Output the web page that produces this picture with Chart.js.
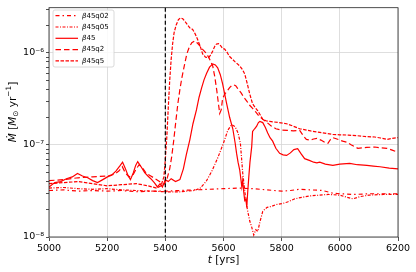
<!DOCTYPE html>
<html>
<head>
<meta charset="utf-8">
<script src="https://cdn.jsdelivr.net/npm/chart.js@4.4.1/dist/chart.umd.min.js"></script>
<style>
  body { margin: 0; background: #fff; }
  #wrap { width: 416px; height: 272px; }
</style>
</head>
<body>
<div id="wrap"><canvas id="myChart"></canvas></div>
<script>
// accretion rate values are in units of 1e-8 Msun/yr
const UNIT = 1e-8;

const tQ02 = [5000, 5050, 5100, 5150, 5200, 5250, 5300, 5350, 5400, 5450, 5500, 5550, 5600, 5650, 5700, 5750, 5800, 5830, 5860, 5900, 5940, 5975, 6000, 6050, 6100, 6150, 6200];
const mQ02 = [3.2, 3.25, 3.15, 3.2, 3.15, 3.2, 3.1, 3.15, 3.15, 3.2, 3.25, 3.3, 3.35, 3.4, 3.35, 3.25, 3.15, 3.2, 3.3, 3.25, 3.2, 3.0, 2.95, 2.9, 2.95, 2.95, 2.95];

const tQ05 = [5000, 5050, 5100, 5150, 5200, 5250, 5300, 5350, 5400, 5450, 5500, 5520, 5540, 5560, 5580, 5600, 5615, 5628, 5640, 5650, 5658, 5666, 5674, 5682, 5690, 5697, 5704, 5711, 5718, 5725, 5735, 5742, 5750, 5765, 5780, 5800, 5820, 5845, 5870, 5900, 5930, 5960, 6000, 6025, 6045, 6070, 6100, 6150, 6200];
const mQ05 = [3.4, 3.45, 3.35, 3.3, 3.35, 3.25, 3.2, 3.15, 3.1, 3.1, 3.2, 3.4, 4.0, 5.2, 7.2, 10.5, 14.5, 16.6, 15.8, 13.5, 10.5, 5.0, 3.0, 2.0, 1.5, 1.28, 1.05, 1.2, 1.15, 1.45, 1.9, 2.0, 2.1, 2.15, 2.25, 2.3, 2.4, 2.6, 2.7, 2.8, 2.85, 2.9, 2.85, 2.7, 2.6, 2.75, 2.85, 2.9, 2.9];

const tB45 = [5000, 5020, 5040, 5060, 5080, 5098, 5115, 5133, 5150, 5167, 5185, 5201, 5215, 5230, 5245, 5253, 5262, 5270, 5280, 5290, 5298, 5305, 5315, 5329, 5340, 5350, 5362, 5373, 5382, 5390, 5400, 5410, 5420, 5435, 5450, 5462, 5472, 5484, 5495, 5507, 5516, 5525, 5533, 5542, 5552, 5563, 5572, 5580, 5589, 5597, 5604, 5611, 5621, 5632, 5640, 5645, 5650, 5656, 5660, 5663, 5666, 5670, 5673, 5677, 5680, 5683, 5687, 5691, 5697, 5700, 5707, 5714, 5720, 5725, 5735, 5744, 5752, 5760, 5769, 5780, 5793, 5805, 5817, 5830, 5842, 5855, 5867, 5879, 5895, 5910, 5921, 5931, 5950, 5976, 6000, 6034, 6060, 6093, 6115, 6138, 6170, 6200];
const mB45 = [3.5, 3.9, 4.0, 4.3, 4.5, 4.9, 4.6, 4.4, 4.1, 3.9, 4.2, 4.5, 4.7, 5.2, 6.0, 6.5, 5.6, 4.8, 4.2, 5.0, 6.0, 6.6, 5.9, 5.0, 4.6, 4.3, 3.9, 3.5, 3.8, 3.5, 4.2, 4.0, 4.3, 4.0, 4.2, 5.5, 7.8, 11.3, 17, 24, 33, 42, 51, 60, 70, 76, 74, 69, 58, 46, 36, 28, 20, 15, 10.5, 8.1, 6.5, 5.3, 4.2, 3.5, 4.1, 3.0, 2.5, 2.6, 2.1, 3.0, 4.5, 6.5, 9.6, 14, 15, 16, 17.5, 18, 17.5, 15.5, 13.5, 12, 11, 9.2, 8.1, 7.8, 7.7, 8.2, 8.9, 9.1, 8.0, 7.1, 6.8, 6.5, 6.4, 6.5, 6.2, 6.0, 6.2, 6.3, 6.1, 6.0, 5.9, 5.8, 5.6, 5.5];

const tQ2 = [5000, 5050, 5100, 5150, 5200, 5225, 5240, 5252, 5262, 5275, 5290, 5300, 5310, 5322, 5335, 5350, 5365, 5380, 5395, 5405, 5415, 5422, 5429, 5436, 5443, 5450, 5457, 5465, 5474, 5482, 5491, 5501, 5510, 5518, 5530, 5542, 5552, 5563, 5570, 5577, 5582, 5587, 5592, 5597, 5605, 5614, 5621, 5628, 5635, 5642, 5649, 5660, 5670, 5680, 5690, 5700, 5710, 5720, 5735, 5750, 5765, 5780, 5800, 5820, 5840, 5862, 5875, 5885, 5897, 5910, 5921, 5935, 5950, 5959, 5968, 5976, 5990, 6010, 6024, 6040, 6062, 6080, 6093, 6120, 6140, 6162, 6180, 6200];
const mQ2 = [4.1, 4.2, 4.4, 4.5, 4.6, 4.8, 5.2, 5.8, 5.0, 4.5, 4.8, 5.5, 6.1, 5.6, 4.9, 4.6, 4.3, 4.0, 3.7, 4.2, 5.5, 7.5, 11.3, 18, 28, 40, 54, 72, 98, 115, 129, 135, 128, 120, 108, 98, 86, 72, 55, 39, 29, 22, 24, 32, 36, 39, 42, 44, 45, 44, 41, 37, 33, 30, 27, 25, 23, 21, 19, 17.5, 16, 15, 14.5, 14.4, 14.2, 14.4, 12.5, 11.5, 11.3, 11.6, 11.8, 11.3, 10.6, 10.4, 11.5, 12, 11.6, 11.0, 10.7, 10.0, 9.2, 9.3, 9.4, 9.5, 9.3, 9.2, 8.8, 8.3];

const tQ5 = [5000, 5050, 5100, 5150, 5200, 5250, 5300, 5340, 5370, 5385, 5395, 5400, 5405, 5410, 5415, 5420, 5425, 5430, 5437, 5445, 5452, 5460, 5470, 5484, 5494, 5503, 5511, 5520, 5528, 5538, 5549, 5556, 5563, 5570, 5576, 5583, 5590, 5597, 5604, 5612, 5620, 5628, 5640, 5656, 5665, 5673, 5682, 5690, 5700, 5709, 5718, 5727, 5735, 5748, 5759, 5790, 5817, 5840, 5862, 5900, 5931, 5976, 6000, 6030, 6060, 6093, 6120, 6140, 6162, 6180, 6200];
const mQ5 = [3.8, 3.9, 4.0, 3.8, 3.6, 3.7, 3.8, 3.6, 3.4, 3.6, 4.5, 7, 12, 25, 50, 85, 125, 165, 200, 230, 240, 235, 215, 187, 180, 160, 140, 118, 98, 90, 89, 95, 105, 118, 125, 126, 120, 112, 110, 102, 92, 87, 80, 72, 66, 59, 46, 36, 28, 25.5, 23.5, 21, 19, 18.2, 18, 17.5, 17, 16, 15, 14.2, 13.7, 13.0, 12.9, 12.8, 12.6, 12.3, 12.2, 11.9, 11.5, 11.8, 12.0];

const seriesNames = ['β45q02', 'β45q05', 'β45', 'β45q2', 'β45q5'];
const seriesT = [tQ02, tQ05, tB45, tQ2, tQ5];
const seriesM = [mQ02, mQ05, mB45, mQ2, mQ5];
const seriesDash = [[4, 3, 1.5, 3], [3, 1.5, 1, 1.5], [], [5.5, 3], [3.5, 1.5]];

const tLine = 5400;
const xTicks = [5000, 5200, 5400, 5600, 5800, 6000, 6200];
const yMajor = [1e-8, 1e-7, 1e-6];
const yMajorLabels = ['10⁻⁸', '10⁻⁷', '10⁻⁶'];

const yTicks = [];
[1e-8, 1e-7, 1e-6].forEach(d => { for (let m = 1; m <= 9; m++) if (d * m <= 3.1e-6) yTicks.push(d * m); });

const ctx = document.getElementById('myChart').getContext('2d');
const FONT = '"DejaVu Sans", sans-serif';

const datasets = seriesNames.map((name, i) => ({
  label: name,
  data: seriesT[i].map((t, j) => ({ x: t, y: seriesM[i][j] * UNIT })),
  borderColor: 'red',
  borderWidth: 1.2,
  borderDash: seriesDash[i],
  pointRadius: 0,
  fill: false,
  tension: 0
}));

function drawRich(c, parts, x, y) {
  // parts: [text, style] where style: 'i' italic, 'sub', 'sup', '' normal
  const size = 10.5;
  let w = 0;
  const fontOf = s => (s === 'i' ? 'italic ' : '') + ((s === 'sub' || s === 'sup') ? size * 0.7 : size) + 'px ' + FONT;
  parts.forEach(p => { c.font = fontOf(p[1]); w += c.measureText(p[0]).width; });
  let cx = x - w / 2;
  c.textBaseline = 'middle';
  c.textAlign = 'left';
  parts.forEach(p => {
    c.font = fontOf(p[1]);
    const dy = p[1] === 'sub' ? 3 : p[1] === 'sup' ? -4 : 0;
    c.fillText(p[0], cx, y + dy);
    cx += c.measureText(p[0]).width;
  });
}

const deco = {
  id: 'deco',
  afterDatasetsDraw(chart) {
    const c = chart.ctx, a = chart.chartArea;
    const px = chart.scales.x.getPixelForValue(tLine);
    c.save();
    c.strokeStyle = '#000';
    c.lineWidth = 1.2;
    c.setLineDash([4, 2.5]);
    c.beginPath();
    c.moveTo(px, a.top);
    c.lineTo(px, a.bottom);
    c.stroke();
    c.restore();
  },
  afterDraw(chart) {
    const c = chart.ctx, a = chart.chartArea;
    c.save();
    // frame
    c.strokeStyle = '#222';
    c.lineWidth = 0.8;
    c.strokeRect(a.left, a.top, a.right - a.left, a.bottom - a.top);

    // legend
    const lx = 53, ly = 10, lw = 61, lh = 57;
    c.fillStyle = 'rgba(255,255,255,0.85)';
    c.strokeStyle = '#d0d0d0';
    c.lineWidth = 0.8;
    c.beginPath();
    c.roundRect(lx, ly, lw, lh, 2);
    c.fill();
    c.stroke();
    seriesNames.forEach((name, i) => {
      const ry = 15.7 + i * 11.3;
      c.strokeStyle = 'red';
      c.lineWidth = 1.2;
      c.setLineDash(seriesDash[i]);
      c.beginPath();
      c.moveTo(55.5, ry);
      c.lineTo(78, ry);
      c.stroke();
      c.setLineDash([]);
      c.fillStyle = '#000';
      c.textBaseline = 'middle';
      c.textAlign = 'left';
      c.font = 'italic 7px ' + FONT;
      c.fillText('β', 82, ry);
      const bw = c.measureText('β').width;
      c.font = '7px ' + FONT;
      c.fillText(name.slice(1), 82 + bw, ry);
    });

    // axis titles
    c.fillStyle = '#000';
    drawRich(c, [['t', 'i'], [' [yrs]', '']], (a.left + a.right) / 2, 260);
    c.save();
    c.translate(13, 112);
    c.rotate(-Math.PI / 2);
    drawRich(c, [['Ṁ', 'i'], [' [', ''], ['M', 'i'], ['⊙', 'sub'], [' yr', ''], ['−1', 'sup'], [']', '']], 0, 0);
    c.restore();
    c.restore();
  }
};

const chart = new Chart(ctx, {
  type: 'line',
  data: { datasets: datasets },
  options: {
    responsive: true,
    maintainAspectRatio: false,
    animation: false,
    layout: { padding: { top: 6, right: 18, left: 0, bottom: 0 } },
    plugins: { legend: { display: false }, tooltip: { enabled: false } },
    scales: {
      x: {
        type: 'linear',
        min: 5000,
        max: 6200,
        afterFit: s => { s.height = 35; },
        afterBuildTicks: s => { s.ticks = xTicks.map(v => ({ value: v })); },
        border: { display: false },
        grid: { color: '#d6d6d6', lineWidth: 0.8, tickColor: '#222', tickLength: 4 },
        ticks: {
          autoSkip: false,
          maxRotation: 0,
          color: '#000',
          padding: 2,
          font: { family: FONT, size: 9.5 },
          callback: v => String(v)
        }
      },
      y: {
        type: 'logarithmic',
        min: 1e-8,
        max: 3.1e-6,
        afterFit: s => { s.width = 49; },
        afterBuildTicks: s => { s.ticks = yTicks.map(v => ({ value: v })); },
        border: { display: false },
        grid: {
          color: g => (yMajor.some(m => Math.abs(Math.log10(g.tick.value) - Math.log10(m)) < 1e-6) ? '#d6d6d6' : 'rgba(0,0,0,0)'),
          lineWidth: 0.8,
          tickColor: '#222',
          tickLength: 3
        },
        ticks: {
          autoSkip: false,
          color: '#000',
          padding: 2,
          font: { family: FONT, size: 9.5 },
          callback: v => {
            const k = yMajor.findIndex(m => Math.abs(Math.log10(v) - Math.log10(m)) < 1e-6);
            return k >= 0 ? yMajorLabels[k] : '';
          }
        }
      }
    }
  },
  plugins: [deco]
});
</script>
</body>
</html>
